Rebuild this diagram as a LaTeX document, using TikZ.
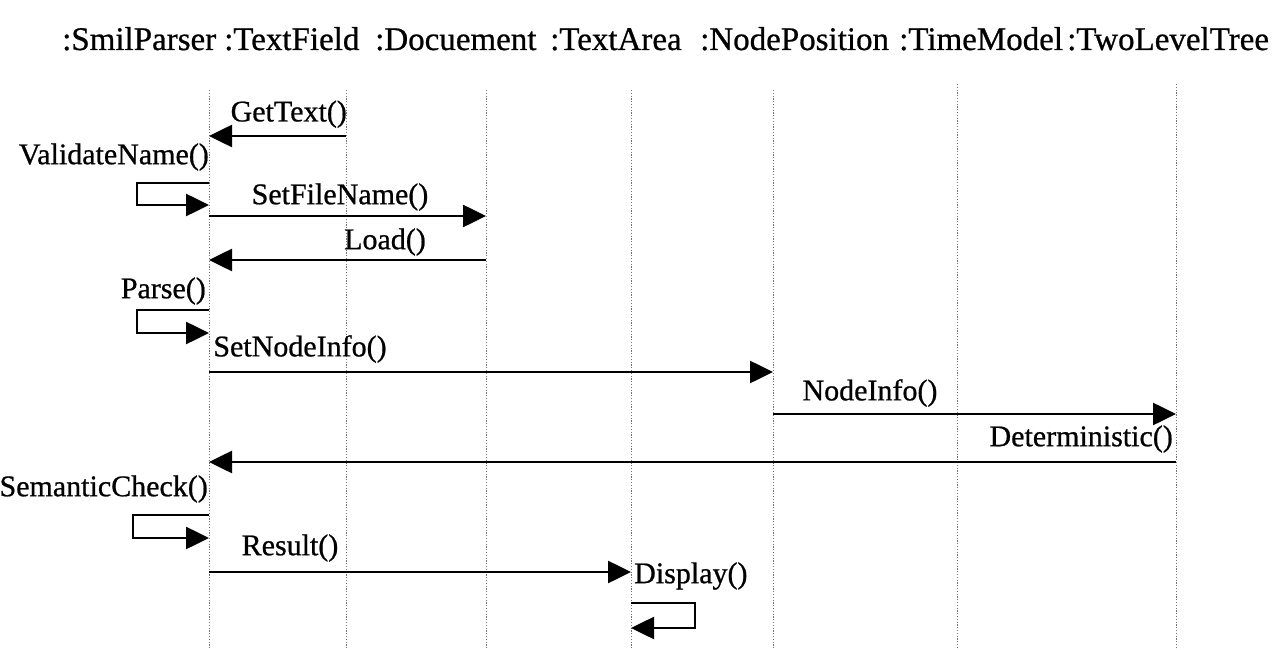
\documentclass[tikz,border=0pt]{standalone}
\usepackage{fontspec}
\setmainfont{Liberation Serif}[FakeBold=0.7]
\usetikzlibrary{arrows.meta}
\begin{document}
\begin{tikzpicture}[x=1pt,y=-1pt,
  head/.style={anchor=base west,inner sep=0pt,font=\fontsize{33}{36}\selectfont},
  lbl/.style={inner sep=0pt,font=\fontsize{30}{33}\selectfont},
  life/.style={draw=black!55,line width=0.9pt,dash pattern=on 1.2pt off 1.6pt},
  msg/.style={draw=black,line width=2.6pt,-{Triangle[length=23pt,width=22pt]}},
  loopl/.style={draw=black,line width=2.6pt,line join=miter,-{Triangle[length=23pt,width=22pt]}}]
\useasboundingbox (0,0) rectangle (1286,650);

% object headers
\node[head] (hSP)  at (62,50)   {:SmilParser};
\node[head] (hTF)  at (224,50)  {:TextField};
\node[head] (hDoc) at (375,50)  {:Docuement};
\node[head] (hTA)  at (550,50)  {:TextArea};
\node[head] (hNP)  at (700,50)  {:NodePosition};
\node[head] (hTM)  at (899,50)  {:TimeModel};
\node[head] (hTLT) at (1067,50) {:TwoLevelTree};

% lifelines
\coordinate (L1) at (209,90);
\coordinate (L2) at (346,90);
\coordinate (L3) at (486,90);
\coordinate (L4) at (631,90);
\coordinate (L5) at (773,90);
\coordinate (L6) at (957,84);
\coordinate (L7) at (1176,84);
\foreach \l in {L1,L2,L3,L4,L5,L6,L7}
  \draw[life] (\l) -- (\l |- 0,650);

% GetText
\node[lbl,anchor=south east] (mGet) at (347,128) {GetText()};
\draw[msg] (L2 |- 0,136) -- (L1 |- 0,136);

% ValidateName self call
\node[lbl,anchor=east] (mVal) at (209,157) {ValidateName()};
\draw[loopl] (L1 |- 0,183) -| (137,205) -- (L1 |- 0,205);

% SetFileName
\node[lbl] (mSet) at (340,197) {SetFileName()};
\draw[msg] (L1 |- 0,216) -- (L3 |- 0,216);

% Load
\node[lbl] (mLoad) at (385,242) {Load()};
\draw[msg] (L3 |- 0,260) -- (L1 |- 0,260);

% Parse self call
\node[lbl,anchor=east] (mParse) at (206,291) {Parse()};
\draw[loopl] (L1 |- 0,310) -| (137,333) -- (L1 |- 0,333);

% SetNodeInfo
\node[lbl] (mSNI) at (300,349) {SetNodeInfo()};
\draw[msg] (L1 |- 0,372) -- (L5 |- 0,372);

% NodeInfo
\node[lbl] (mNI) at (870,393) {NodeInfo()};
\draw[msg] (L5 |- 0,414) -- (L7 |- 0,414);

% Deterministic
\node[lbl,anchor=east] (mDet) at (1173,439) {Deterministic()};
\draw[msg] (L7 |- 0,462) -- (L1 |- 0,462);

% SemanticCheck self call
\node[lbl,anchor=east] (mSem) at (208,489) {SemanticCheck()};
\draw[loopl] (L1 |- 0,515) -| (133,538) -- (L1 |- 0,538);

% Result
\node[lbl] (mRes) at (290,548) {Result()};
\draw[msg] (L1 |- 0,572) -- (L4 |- 0,572);

% Display self call
\node[lbl,anchor=west] (mDisp) at (634,576) {Display()};
\draw[loopl] (L4 |- 0,603) -| (695,628) -- (L4 |- 0,628);
\end{tikzpicture}
\end{document}
